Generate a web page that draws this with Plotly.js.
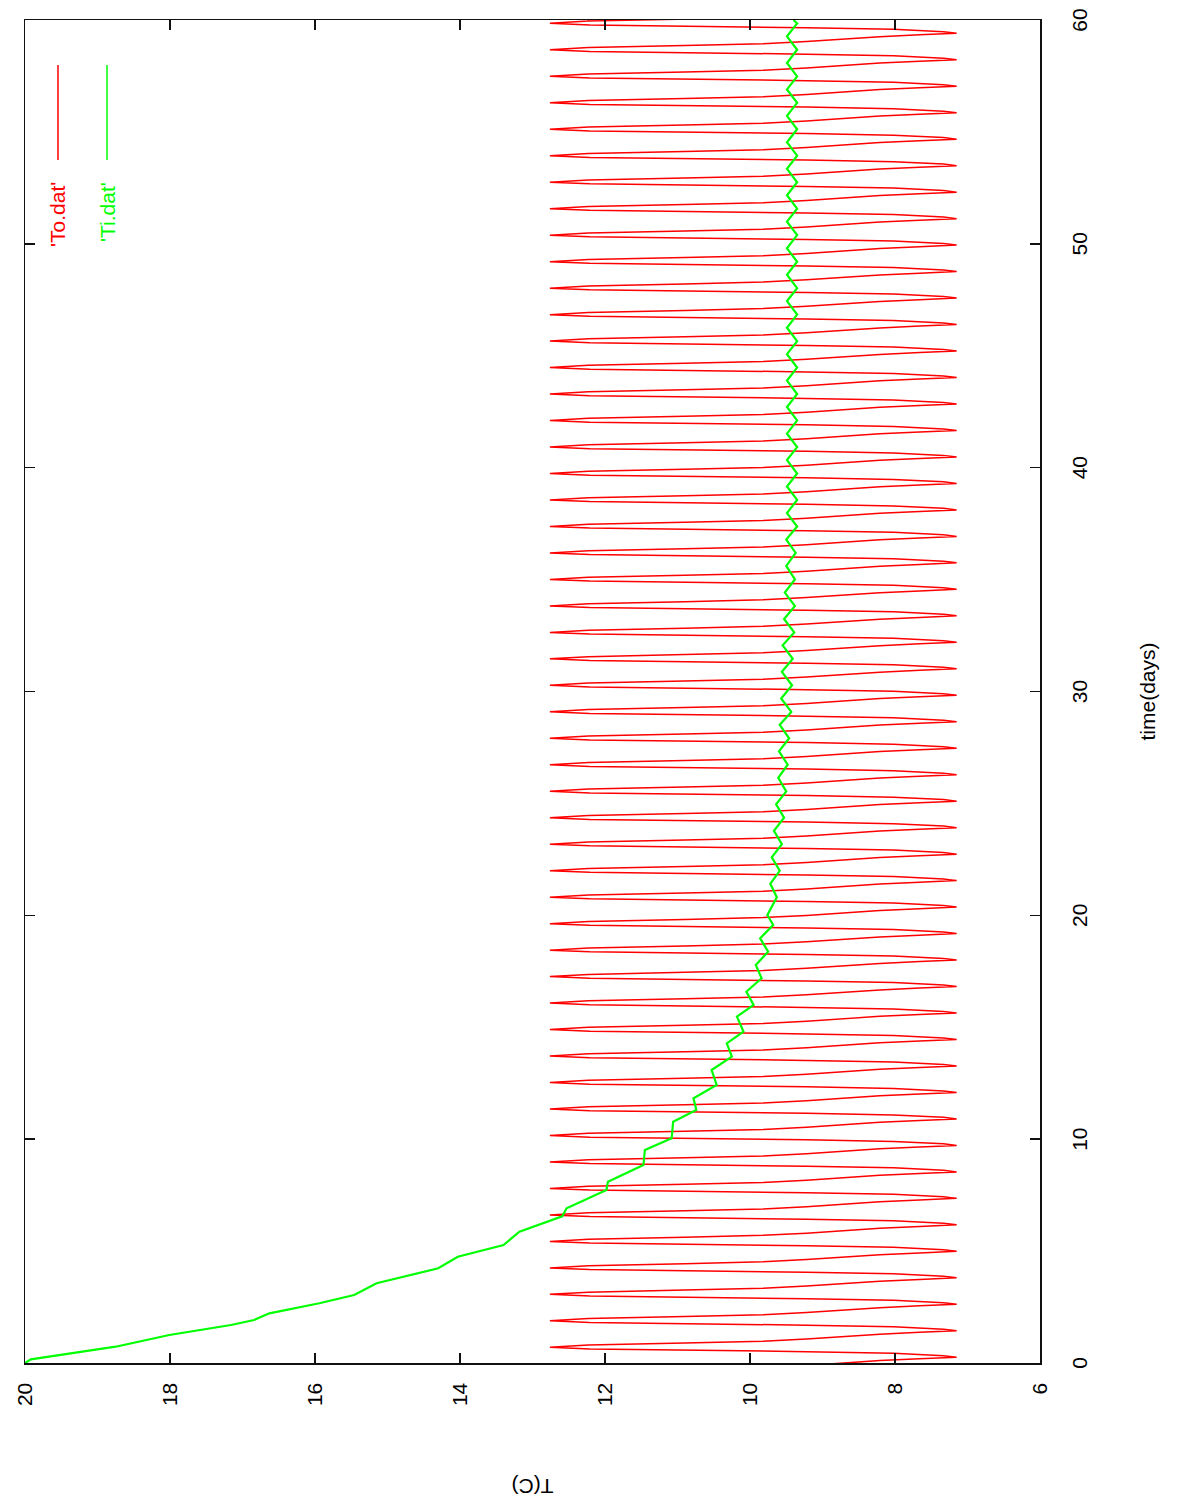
<!DOCTYPE html>
<html>
<head>
<meta charset="utf-8">
<script src="https://cdn.plot.ly/plotly-3.0.1.min.js"></script>
<style>
html, body { margin:0; padding:0; overflow:hidden; background:#ffffff; width:1188px; height:1503px; }
#chart { position:absolute; left:0; top:0; width:1503px; height:1188px;
  transform-origin:0 0; transform:translate(0px,1503px) rotate(-90deg); }
</style>
</head>
<body>
<div id="chart"></div>
<script>
// ---- data ----
// series names
const seriesNames = ["'To.dat'", "'Ti.dat'"];

// To.dat: days at which each daily maximum occurs
const toPeakDays = [-0.483, 0.70, 1.883, 3.066, 4.249, 5.432, 6.615, 7.798, 8.981, 10.164, 11.347,
  12.53, 13.713, 14.896, 16.079, 17.262, 18.445, 19.628, 20.811, 21.994, 23.177,
  24.36, 25.543, 26.726, 27.909, 29.092, 30.275, 31.458, 32.641, 33.824, 35.007,
  36.19, 37.373, 38.556, 39.739, 40.922, 42.105, 43.288, 44.471, 45.654, 46.837,
  48.02, 49.203, 50.386, 51.569, 52.752, 53.935, 55.118, 56.301, 57.484, 58.667, 59.85];
// one cycle of To.dat (days after the maximum, temperature)
const toCycleOffsets = [0, 0.10, 0.19, 0.27, 0.37, 0.49, 0.59, 0.67, 0.74, 0.81, 0.92, 0.99, 1.04, 1.11];
const toCycleTemps   = [12.76, 12.23, 10.90, 9.82, 9.22, 8.74, 8.21, 7.66, 7.15, 7.33, 8.02, 9.22, 10.78, 12.21];

// Ti.dat
const tiDays = [0, 0.165, 0.728, 1.251, 1.698, 1.921, 2.220, 2.667, 3.038, 3.561,
  4.231, 4.749, 5.272, 5.866, 6.55, 6.912, 7.729, 8.100, 8.846, 9.516,
  10.039, 10.781, 11.303, 11.826, 12.420, 13.090, 13.685, 14.283, 14.802, 15.472,
  15.994, 16.589, 17.187, 17.782, 18.376, 18.974, 19.569, 20.015,
  20.81, 21.41, 21.99, 22.59, 23.18, 23.78, 24.36, 24.96, 25.54, 26.14,
  26.73, 27.33, 27.91, 28.51, 29.09, 29.69, 30.28, 30.88, 31.46, 32.06,
  32.64, 33.24, 33.82, 34.42, 35.01, 35.61, 36.19, 36.79, 37.37, 37.97,
  38.56, 39.16, 39.74, 40.34, 40.92, 41.52, 42.11, 42.71, 43.29, 43.89,
  44.47, 45.07, 45.65, 46.25, 46.84, 47.44, 48.02, 48.62, 49.20, 49.80,
  50.39, 50.99, 51.57, 52.17, 52.75, 53.35, 53.94, 54.54, 55.12, 55.72,
  56.30, 56.90, 57.48, 58.08, 58.67, 59.27, 59.85, 60.0];
const tiTemps = [20.00, 19.92, 18.75, 18.01, 17.16, 16.84, 16.63, 15.94, 15.46, 15.15,
  14.30, 14.03, 13.40, 13.18, 12.59, 12.53, 11.98, 11.96, 11.47, 11.45,
  11.08, 11.06, 10.74, 10.78, 10.46, 10.53, 10.25, 10.32, 10.09, 10.18,
  9.95, 10.05, 9.84, 9.92, 9.75, 9.86, 9.68, 9.76,
  9.63, 9.72, 9.59, 9.70, 9.56, 9.67, 9.53, 9.64, 9.50, 9.61,
  9.48, 9.60, 9.46, 9.59, 9.43, 9.57, 9.42, 9.56, 9.41, 9.55,
  9.39, 9.53, 9.38, 9.52, 9.38, 9.50, 9.37, 9.50, 9.35, 9.49,
  9.35, 9.49, 9.35, 9.49, 9.35, 9.49, 9.35, 9.49, 9.35, 9.49,
  9.35, 9.49, 9.35, 9.49, 9.35, 9.49, 9.35, 9.49, 9.35, 9.49,
  9.35, 9.49, 9.35, 9.49, 9.35, 9.49, 9.35, 9.49, 9.35, 9.49,
  9.35, 9.49, 9.35, 9.49, 9.35, 9.49, 9.35, 9.40];

// axis ticks
const timeTicks = [0, 10, 20, 30, 40, 50, 60];
const tempTicks = [6, 8, 10, 12, 14, 16, 18, 20];

// ---- build To series from the read cycle placed at each read maximum ----
const toDays = [], toTemps = [];
toPeakDays.forEach(function (p) {
  for (let i = 0; i < toCycleOffsets.length; i++) {
    toDays.push(p + toCycleOffsets[i]);
    toTemps.push(toCycleTemps[i]);
  }
});
toDays.push(toPeakDays[toPeakDays.length - 1] + 0.10);
toTemps.push(toCycleTemps[1]);

const traces = [
  { x: toDays, y: toTemps, name: seriesNames[0], type: 'scatter', mode: 'lines',
    line: { color: '#ff0000', width: 1.5 }, showlegend: false },
  { x: tiDays, y: tiTemps, name: seriesNames[1], type: 'scatter', mode: 'lines',
    line: { color: '#00ff00', width: 2.2 }, showlegend: false }
];

const axisCommon = {
  showgrid: false, zeroline: false, showline: true, linecolor: '#111', linewidth: 1.5,
  mirror: 'ticks', ticks: 'inside', ticklen: 10, tickwidth: 1.5, tickcolor: '#111',
  tickfont: { family: 'Liberation Sans, Arial, sans-serif', size: 21, color: '#000' },
  automargin: false
};

const layout = {
  width: 1503, height: 1188,
  margin: { l: 140, r: 20, t: 25, b: 148 },
  paper_bgcolor: '#ffffff', plot_bgcolor: '#ffffff',
  font: { family: 'Liberation Sans, Arial, sans-serif', size: 21, color: '#000' },
  xaxis: Object.assign({}, axisCommon, {
    range: [0, 60], tickmode: 'array', tickvals: timeTicks,
    ticklabelstandoff: 20,
    title: { text: 'time(days)', standoff: 50, font: { size: 21 } }
  }),
  yaxis: Object.assign({}, axisCommon, {
    range: [6, 20], tickmode: 'array', tickvals: tempTicks,
    ticklabelstandoff: 14,
    title: { text: 'T(C)', standoff: 66, font: { size: 21 } }
  }),
  shapes: [
    { type: 'line', xref: 'paper', yref: 'paper', x0: 0.8958, x1: 0.9665, y0: 0.9675, y1: 0.9675,
      line: { color: '#ff0000', width: 1.5 } },
    { type: 'line', xref: 'paper', yref: 'paper', x0: 0.8958, x1: 0.9665, y0: 0.9192, y1: 0.9192,
      line: { color: '#00ff00', width: 1.5 } }
  ],
  annotations: [
    { xref: 'paper', yref: 'paper', x: 0.881, y: 0.9675, xanchor: 'right', yanchor: 'middle',
      text: seriesNames[0], showarrow: false, font: { color: '#ff0000', size: 21 } },
    { xref: 'paper', yref: 'paper', x: 0.881, y: 0.9192, xanchor: 'right', yanchor: 'middle',
      text: seriesNames[1], showarrow: false, font: { color: '#00ff00', size: 21 } }
  ]
};

Plotly.newPlot('chart', traces, layout, { staticPlot: true, displayModeBar: false, responsive: false });
</script>
</body>
</html>
